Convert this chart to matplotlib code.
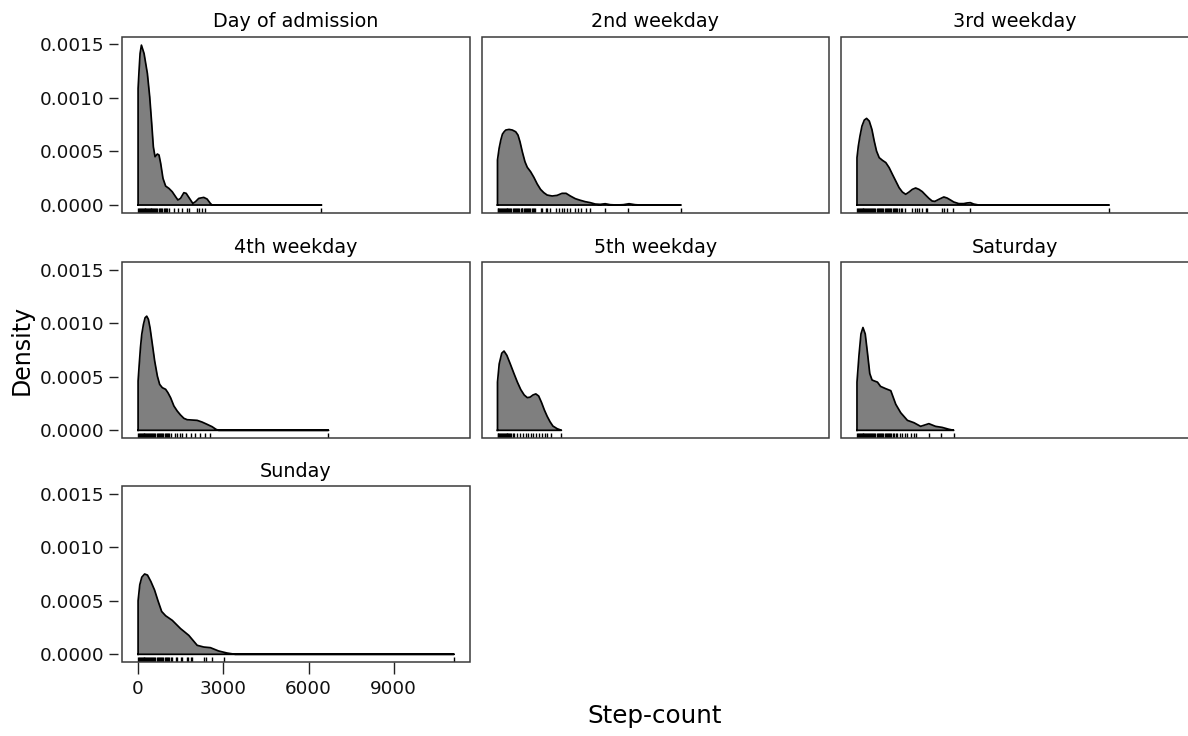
import matplotlib
matplotlib.use("Agg")
import matplotlib.pyplot as plt
from matplotlib.patches import Rectangle

plt.rcParams['font.family'] = ['DejaVu Sans']

# ---------------- data ----------------
titles = ["Day of admission", "2nd weekday", "3rd weekday", "4th weekday",
          "5th weekday", "Saturday", "Sunday"]

y_ticks = [0.0, 0.0005, 0.0010, 0.0015]
y_tick_labels = ["0.0000", "0.0005", "0.0010", "0.0015"]
x_ticks = [0, 3000, 6000, 9000]
x_tick_labels = ["0", "3000", "6000", "9000"]

# density curves (step-count, density)
dens_x_admission = [0, 35, 70, 117, 210, 327, 409, 479, 537, 596, 678, 736, 795, 876, 969,
                    1086, 1202, 1319, 1401, 1494, 1611, 1693, 1809, 1926, 2020, 2136, 2311,
                    2428, 2544, 2603, 6454]
dens_y_admission = [0.001088, 0.00126, 0.001415, 0.001493, 0.001415, 0.001228, 0.00101,
                    0.000762, 0.000544, 0.000451, 0.000476, 0.000467, 0.000389, 0.000249,
                    0.000177, 0.000155, 0.000124, 0.000078, 0.000047, 0.000062, 0.000115,
                    0.000109, 0.000062, 0.000015, 0.000031, 0.000062, 0.000071, 0.000056,
                    0.000015, 0.0, 0.0]

dens_x_wd2 = [0, 57, 116, 174, 233, 291, 408, 524, 641, 722, 792, 874, 967, 1049, 1166, 1282,
              1399, 1516, 1632, 1749, 1924, 2099, 2274, 2414, 2566, 2741, 2916, 3091, 3266,
              3441, 3616, 3791, 3966, 4199, 4432, 4631, 4841, 5016, 6450]
dens_y_wd2 = [0.00042, 0.000529, 0.000606, 0.000662, 0.000684, 0.0007, 0.000706, 0.0007,
              0.000684, 0.000653, 0.000591, 0.000497, 0.000404, 0.000352, 0.000311, 0.000258,
              0.000196, 0.000146, 0.000115, 0.000093, 0.000084, 0.00009, 0.000109, 0.000109,
              0.000084, 0.000059, 0.000044, 0.000031, 0.000022, 0.000009, 0.000006, 0.000012,
              0.000003, 0.0, 0.000003, 0.000012, 0.000003, 0.0, 0.0]

dens_x_wd3 = [0, 47, 105, 175, 257, 338, 432, 525, 607, 688, 782, 898, 1015, 1132, 1248, 1365,
              1482, 1598, 1715, 1832, 1948, 2065, 2182, 2298, 2415, 2532, 2648, 2742, 2882,
              3057, 3173, 3290, 3407, 3582, 3757, 3873, 3990, 4107, 4282, 8865]
dens_y_wd3 = [0.000442, 0.00055, 0.000644, 0.000737, 0.000793, 0.000809, 0.000784, 0.000706,
              0.000597, 0.000504, 0.000442, 0.000417, 0.000396, 0.000349, 0.000286, 0.000224,
              0.000162, 0.000121, 0.0001, 0.000121, 0.000146, 0.000159, 0.000146, 0.000125,
              0.000093, 0.000062, 0.000037, 0.000034, 0.000053, 0.000075, 0.000065, 0.000047,
              0.000028, 0.000013, 0.000013, 0.000019, 0.000022, 0.000009, 0.0, 0.0]

dens_x_wd4 = [0, 36, 83, 129, 188, 246, 304, 363, 421, 503, 584, 678, 759, 853, 969, 1051,
              1145, 1261, 1378, 1494, 1611, 1728, 1903, 2078, 2253, 2428, 2603, 2743, 2836, 6700]
dens_y_wd4 = [0.00046, 0.0006, 0.000771, 0.000896, 0.000989, 0.001051, 0.001066, 0.001036,
              0.000957, 0.000802, 0.000647, 0.000507, 0.000429, 0.000398, 0.000383, 0.000351,
              0.000304, 0.000227, 0.00018, 0.000143, 0.000112, 0.000099, 0.000096, 0.000093,
              0.000077, 0.000056, 0.000034, 0.000009, 0.0, 0.0]

dens_x_wd5 = [0, 60, 150, 230, 330, 450, 580, 700, 820, 940, 1050, 1150, 1250, 1350, 1450,
              1550, 1650, 1750, 1850, 1950, 2100, 2250]
dens_y_wd5 = [0.00045, 0.00062, 0.00072, 0.00074, 0.0007, 0.00062, 0.00053, 0.00045, 0.00038,
              0.00033, 0.000305, 0.00031, 0.00033, 0.00034, 0.00032, 0.00026, 0.00019, 0.00013,
              0.00008, 0.00004, 0.000015, 0.0]

dens_x_sat = [0, 70, 140, 210, 290, 370, 450, 530, 620, 720, 830, 1000, 1190, 1365, 1540,
              1775, 2005, 2240, 2530, 2765, 3000, 3230, 3405]
dens_y_sat = [0.00045, 0.0007, 0.0009, 0.00096, 0.0009, 0.00072, 0.00053, 0.00047, 0.00046,
              0.00045, 0.00041, 0.00039, 0.00037, 0.000243, 0.000164, 0.000093, 0.000071,
              0.000037, 0.000062, 0.000037, 0.000027, 0.00001, 0.0]

dens_x_sun = [0, 60, 130, 230, 330, 450, 580, 700, 830, 970, 1204, 1495, 1785, 2080, 2310,
              2545, 2835, 3130, 3420, 11120]
dens_y_sun = [0.0005, 0.00065, 0.00072, 0.00075, 0.00074, 0.00068, 0.0006, 0.0005, 0.0004,
              0.00036, 0.000317, 0.00024, 0.000177, 0.000084, 0.000068, 0.000062, 0.000031,
              0.000012, 0.0, 0.0]

# rug values (individual step-counts)
rug_admission = [10, 45, 80, 110, 140, 170, 200, 235, 260, 290, 320, 350, 385, 410, 440, 470,
                 500, 530, 560, 600, 640, 680, 720, 760, 800, 850, 900, 950, 990, 1030, 1085,
                 1260, 1400, 1554, 1705, 1785, 2079, 2160, 2254, 2370, 6430]
rug_wd2 = [5, 35, 70, 100, 130, 160, 195, 225, 260, 290, 320, 350, 385, 420, 455, 490, 530,
           570, 610, 650, 690, 730, 770, 810, 850, 875, 930, 965, 1000, 1040, 1080, 1120,
           1160, 1200, 1240, 1280, 1320, 1515, 1575, 1690, 1750, 1865, 2055, 2150, 2254,
           2335, 2430, 2545, 2720, 2835, 2954, 3105, 3245, 3770, 4610, 6450]
rug_wd3 = [5, 35, 70, 100, 130, 160, 195, 225, 260, 290, 320, 350, 385, 420, 455, 490, 530,
           570, 610, 650, 690, 730, 770, 810, 850, 890, 930, 970, 1010, 1050, 1090, 1130,
           1170, 1210, 1250, 1290, 1330, 1370, 1420, 1470, 1540, 1600, 1680, 1950, 2030,
           2100, 2180, 2300, 2415, 2475, 3000, 3080, 3175, 3385, 3965, 8865]
rug_wd4 = [5, 35, 70, 100, 130, 160, 195, 225, 260, 290, 320, 350, 385, 420, 455, 490, 530,
           570, 610, 650, 690, 730, 770, 810, 850, 890, 930, 970, 1010, 1050, 1100, 1145,
           1285, 1380, 1460, 1554, 1694, 1845, 2020, 2195, 2370, 2545, 6700]
rug_wd5 = [5, 35, 70, 100, 130, 160, 195, 225, 260, 290, 320, 350, 385, 420, 455, 490, 530,
           580, 675, 790, 910, 990, 1070, 1165, 1260, 1340, 1455, 1550, 1655, 1750, 1890, 2250]
rug_sat = [5, 35, 70, 100, 130, 160, 195, 225, 260, 290, 320, 350, 385, 420, 455, 490, 530,
           570, 610, 650, 690, 730, 770, 810, 850, 890, 930, 970, 1010, 1050, 1090, 1130,
           1170, 1210, 1260, 1310, 1370, 1424, 1515, 1600, 1680, 1775, 1890, 2005, 2065,
           2530, 2940, 3405]
rug_sun = [5, 35, 70, 100, 130, 160, 195, 225, 260, 290, 320, 350, 385, 420, 455, 490, 530,
           570, 610, 650, 690, 730, 770, 810, 850, 890, 930, 970, 1010, 1050, 1100, 1150,
           1204, 1320, 1380, 1495, 1554, 1705, 1764, 1845, 1904, 2335, 2405, 2604, 3035, 11120]

panels = [
    (dens_x_admission, dens_y_admission, rug_admission),
    (dens_x_wd2, dens_y_wd2, rug_wd2),
    (dens_x_wd3, dens_y_wd3, rug_wd3),
    (dens_x_wd4, dens_y_wd4, rug_wd4),
    (dens_x_wd5, dens_y_wd5, rug_wd5),
    (dens_x_sat, dens_y_sat, rug_sat),
    (dens_x_sun, dens_y_sun, rug_sun),
]

# ---------------- layout ----------------
W, H = 1188, 736
fig = plt.figure(figsize=(W / 100, H / 100), dpi=100)
fig.patch.set_facecolor('white')

col_left = [122.3, 481.7, 841.2]
row_top = [37.0, 262.3, 486.3]
pw, ph = 347.5, 176.0

XLIM = (-556, 11677)
YLIM = (-0.0000746, 0.001569)
border_col = '#3a3a3a'
tick_col = '#222222'
px = 0.72  # points per pixel

for i, (title, (dx, dy, rug)) in enumerate(zip(titles, panels)):
    r, c = divmod(i, 3)
    l = col_left[c]
    t = row_top[r]
    ax = fig.add_axes([l / W, 1 - (t + ph) / H, pw / W, ph / H])
    ax.set_xlim(*XLIM)
    ax.set_ylim(*YLIM)

    ax.fill_between(dx, dy, 0, color='#7f7f7f', lw=0, zorder=2)
    ox = [dx[0]] + list(dx) + [dx[0]]
    oy = [0.0] + list(dy) + [0.0]
    ax.plot(ox, oy, color='black', lw=1.25, zorder=3, solid_joinstyle='round')

    ax.vlines(rug, 0, 0.03, transform=ax.get_xaxis_transform(), color='black',
              lw=1.0, zorder=3)

    for s in ax.spines.values():
        s.set_visible(False)
    ax.add_patch(Rectangle((0, 0), 1, 1, transform=ax.transAxes, fill=False,
                           ec=border_col, lw=1.1, clip_on=False, zorder=5))

    ax.set_title(title, fontsize=13.8, pad=7.0, color='black')

    ax.set_yticks(y_ticks)
    ax.set_yticklabels(y_tick_labels)
    ax.set_xticks(x_ticks)
    ax.set_xticklabels(x_tick_labels)

    if c == 0:
        ax.spines['left'].set_position(('outward', 4 * px))
        ax.tick_params(axis='y', left=True, labelleft=True, length=9 * px, width=1.0,
                       color=tick_col, pad=5 * px, labelsize=13.2, labelcolor='#111111')
    else:
        ax.tick_params(axis='y', left=False, labelleft=False)

    if i == 6:
        ax.tick_params(axis='x', bottom=True, labelbottom=True, length=12 * px, width=1.0,
                       color=tick_col, pad=6 * px, labelsize=13.2, labelcolor='#111111')
    else:
        ax.tick_params(axis='x', bottom=False, labelbottom=False)

fig.text(22 / W, 1 - 350 / H, "Density", rotation=90, ha='center', va='center',
         fontsize=17, color='black')
fig.text(655 / W, 1 - 716 / H, "Step-count", ha='center', va='center',
         fontsize=17.7, color='black')

fig.savefig("out.png", dpi=100)
